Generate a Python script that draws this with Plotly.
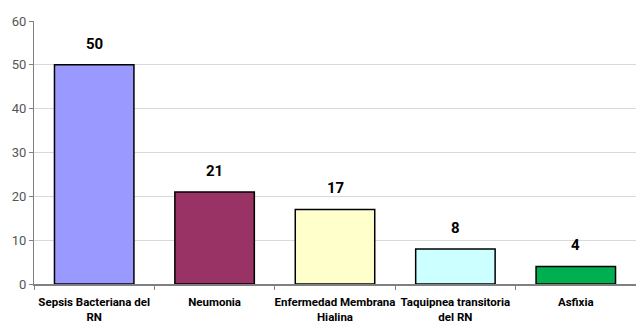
import plotly.graph_objects as go

categories = ["Sepsis Bacteriana del<br>RN", "Neumonia", "Enfermedad Membrana<br>Hialina",
              "Taquipnea transitoria<br>del RN", "Asfixia"]
values = [50, 21, 17, 8, 4]
colors = ["#9999FF", "#993366", "#FFFFCC", "#CCFFFF", "#00B050"]
y_ticks = [0, 10, 20, 30, 40, 50, 60]

font_fam = "Roboto, sans-serif"

fig = go.Figure(go.Bar(
    x=categories, y=values,
    marker=dict(color=colors, line=dict(color="#000000", width=1.5)),
    width=0.66,
    cliponaxis=False,
))
for c, v in zip(categories, values):
    fig.add_annotation(x=c, y=v, text="<b>%d</b>" % v, showarrow=False,
                       yanchor="bottom", yshift=10,
                       font=dict(family=font_fam, size=15, color="#000000"))
fig.update_layout(
    width=636, height=331,
    margin=dict(l=34, r=0, t=21, b=47),
    paper_bgcolor="white", plot_bgcolor="white",
    showlegend=False,
    font=dict(family=font_fam),
)
fig.update_yaxes(range=[0, 60], tickvals=y_ticks, showgrid=True, gridcolor="#D9D9D9",
                 gridwidth=1, showline=True, linecolor="#808080", linewidth=1,
                 ticks="outside", ticklen=4, tickcolor="#808080",
                 tickfont=dict(size=13, color="#555555", family=font_fam), zeroline=False)
fig.update_xaxes(showline=True, linecolor="#808080", linewidth=1.5, ticks="outside",
                 tickson="boundaries", ticklen=4, tickcolor="#808080",
                 tickfont=dict(size=11.5, color="#000000", family=font_fam, weight="bold"),
                 ticklabelstandoff=6,
                 tickangle=0)
fig.write_html("out.html")
